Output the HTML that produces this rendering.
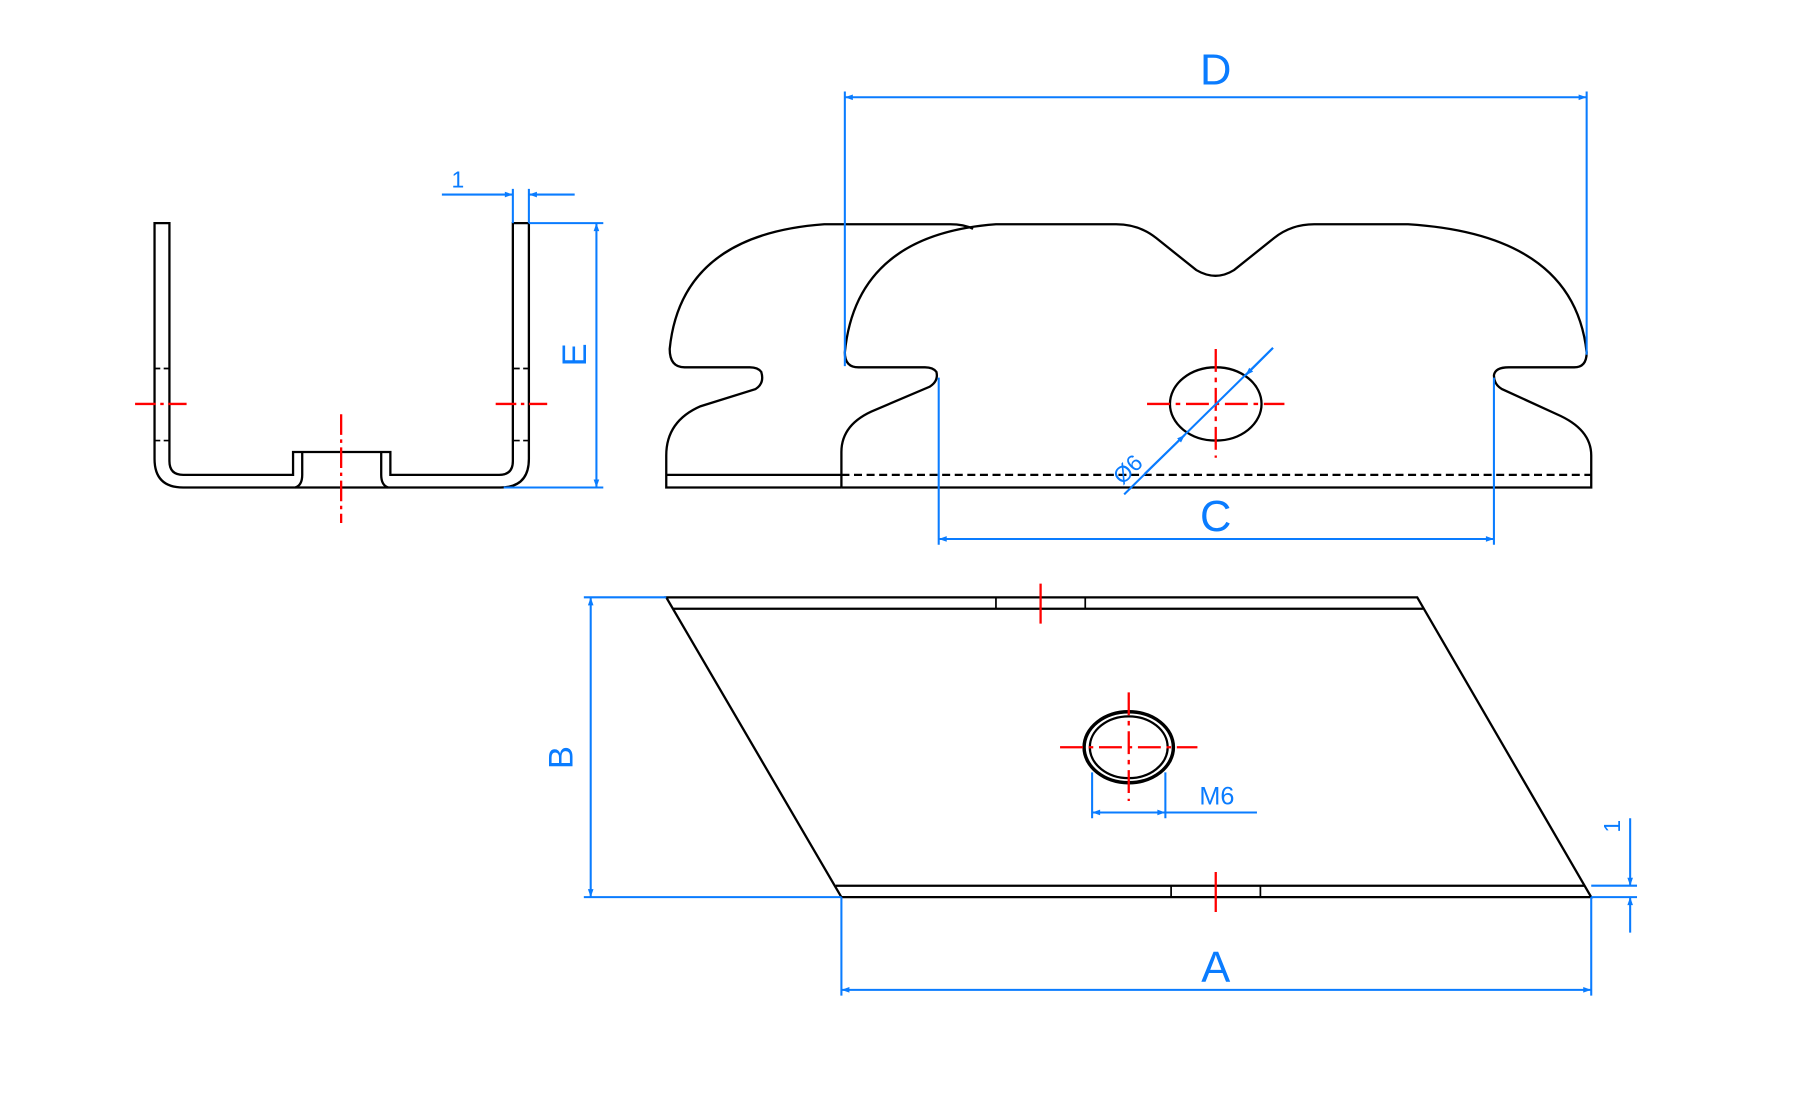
<!DOCTYPE html>
<html><head><meta charset="utf-8"><style>html,body{margin:0;padding:0;background:#fff;}svg{display:block}</style></head>
<body>
<svg width="1795" height="1110" viewBox="0 0 1568 970" preserveAspectRatio="none" xmlns="http://www.w3.org/2000/svg">
<defs>
<marker id="ar" viewBox="0 0 10 10" refX="10" refY="5" markerWidth="12" markerHeight="7" orient="auto-start-reverse" markerUnits="userSpaceOnUse"><path d="M0,1.5 L10,5 L0,8.5z" fill="#0a7cff"/></marker>
</defs>
<rect width="1568" height="970" fill="#fff"/>
<g fill="none" stroke="#000" stroke-width="2">
<path d="M135,195 L135,401 Q135,426 160,426 L437,426 Q462,426 462,401 L462,195 L448,195 L448,403 Q448,415 436,415 L341,415 L341,395 L256,395 L256,415 L160,415 Q148,415 148,403 L148,195 Z"/>
<path d="M264,395 L264,415 M333,395 L333,415 M264,415 Q264,424 258,426 M333,415 Q333,424 339,426"/>
<path d="M148,322 H135 M148,385 H135 M462,322 H448 M462,385 H448" stroke-dasharray="5,3" stroke-width="1.5"/>
<path d="M735,426 L582,426 L582,398 Q582,368 612,355 L660,340 Q668,335 665,325 Q662,321 655,321 L598,321 Q585,321 585,305 Q595,205 720,196 L830,196 Q842,196 850,200"/>
<path d="M582,415 L735,415"/>
<path d="M735,426 L735,395 Q735,370 765,358 L812,338 Q820,333 818,325 Q815,321 808,321 L750,321 Q738,321 738,308 Q748,205 870,196 L975,196 Q995,196 1010,208 L1045,236 Q1062,246 1078,236 L1113,208 Q1128,196 1148,196 L1230,196 Q1375,205 1386,308 Q1386,321 1375,321 L1318,321 Q1306,321 1305,328 Q1305,336 1312,340 L1360,362 Q1390,375 1390,398 L1390,426 L735,426"/>
<path d="M735,415 L1390,415" stroke-dasharray="7,4"/>
<ellipse cx="1062" cy="353" rx="40" ry="32"/>
<path d="M582,522 L1238,522 L1390,784 L735,784 Z"/>
<path d="M588,532 L1243,532 M730,774 L1384,774"/>
<path d="M870,522 V532 M948,522 V532 M1023,774 V784 M1101,774 V784" stroke-width="1.5"/>
<ellipse cx="986" cy="653" rx="39" ry="31" stroke-width="3"/>
<ellipse cx="986" cy="653" rx="34" ry="27"/>
</g>
<g stroke="#ff0000" stroke-width="2" fill="none">
<path d="M118,353 H163 M433,353 H478" stroke-dasharray="18,4,3,4"/>
<path d="M298,362 V457" stroke-dasharray="18,4,3,4"/>
<path d="M1002,353 H1122 M1062,305 V400" stroke-dasharray="20,5,4,5"/>
<path d="M926,653 H1046 M986,605 V700" stroke-dasharray="20,5,4,5"/>
<path d="M909,510 V545 M1062,762 V797"/>
</g>
<g stroke="#0a7cff" stroke-width="1.8" fill="none">
<path d="M448,165 V195 M462,165 V195"/>
<path d="M386,170 H448" marker-end="url(#ar)"/>
<path d="M502,170 H462" marker-end="url(#ar)"/>
<path d="M462,195 H527 M440,426 H527"/>
<path d="M521,195 V426" marker-start="url(#ar)" marker-end="url(#ar)"/>
<path d="M738,80 V320 M1386,80 V310"/>
<path d="M738,85 H1386" marker-start="url(#ar)" marker-end="url(#ar)"/>
<path d="M820,330 V476 M1305,330 V476"/>
<path d="M820,471 H1305" marker-start="url(#ar)" marker-end="url(#ar)"/>
<path d="M982,432 L1112,304"/>
<path d="M1000,414 L1035,380" marker-end="url(#ar)"/>
<path d="M1112,304 L1088,328" marker-end="url(#ar)"/>
<path d="M510,522 H582 M510,784 H735"/>
<path d="M516,522 V784" marker-start="url(#ar)" marker-end="url(#ar)"/>
<path d="M735,784 V870 M1390,784 V870"/>
<path d="M735,865 H1390" marker-start="url(#ar)" marker-end="url(#ar)"/>
<path d="M954,675 V715 M1018,675 V715"/>
<path d="M954,710 H1018" marker-start="url(#ar)" marker-end="url(#ar)"/>
<path d="M1018,710 H1098"/>
<path d="M1390,774 H1430 M1390,784 H1430"/>
<path d="M1424,715 V774" marker-end="url(#ar)"/>
<path d="M1424,815 V784" marker-end="url(#ar)"/>
</g>
<g fill="#0a7cff" font-family="Liberation Sans, sans-serif" text-anchor="middle">
<text x="400" y="164" font-size="20">1</text>
<text transform="translate(512,310) rotate(-90)" font-size="30">E</text>
<text x="1062" y="74" font-size="38">D</text>
<text x="1062" y="464" font-size="38">C</text>
<text transform="translate(990,415) rotate(-45)" font-size="20">Ø6</text>
<text transform="translate(500,662) rotate(-90)" font-size="30">B</text>
<text x="1062" y="858" font-size="38">A</text>
<text x="1063" y="703" font-size="22">M6</text>
<text transform="translate(1415,722) rotate(-90)" font-size="20">1</text>
</g>
</svg>
</body></html>
